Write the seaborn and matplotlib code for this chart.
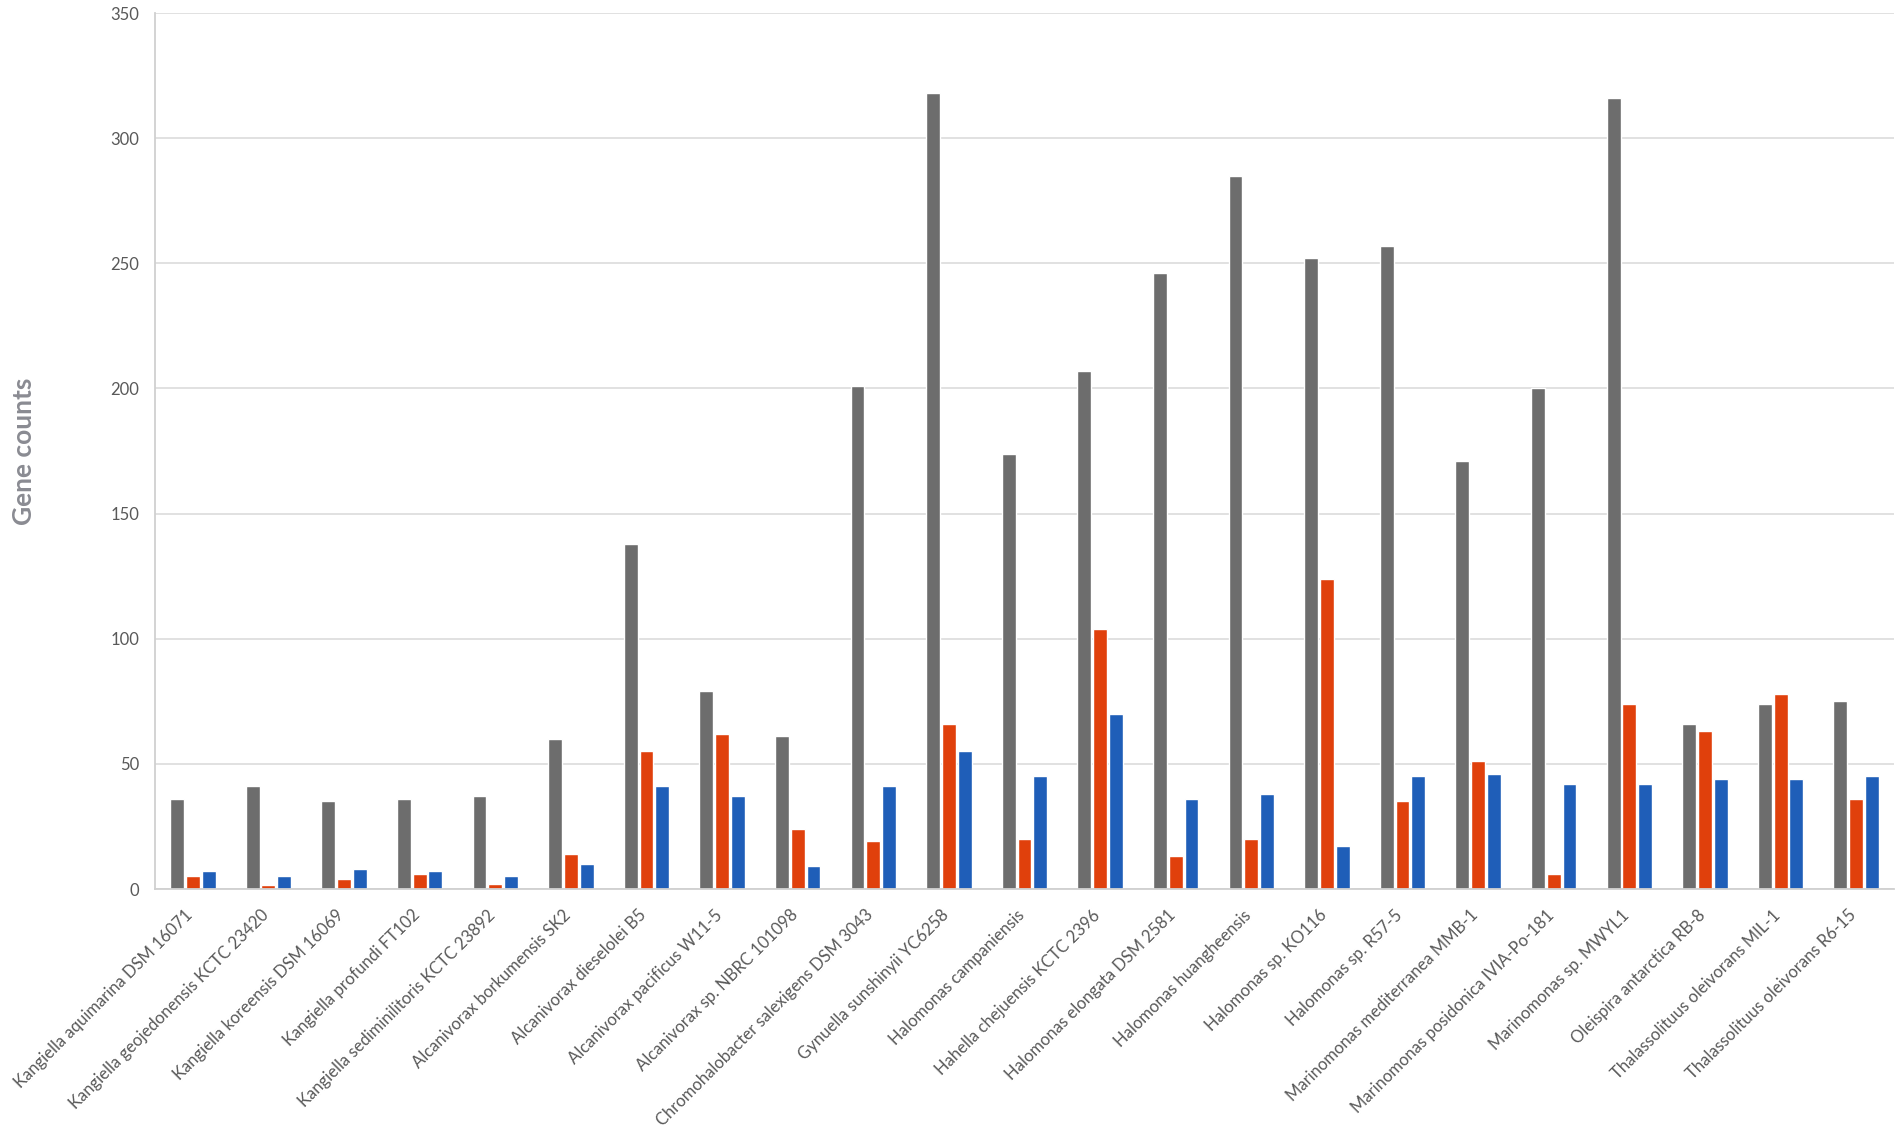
import matplotlib
matplotlib.use("Agg")
import matplotlib.pyplot as plt
import matplotlib.transforms as mtransforms
import seaborn as sns
import pandas as pd

organisms = [
    "Kangiella aquimarina DSM 16071",
    "Kangiella geojedonensis KCTC 23420",
    "Kangiella koreensis DSM 16069",
    "Kangiella profundi FT102",
    "Kangiella sediminilitoris KCTC 23892",
    "Alcanivorax borkumensis SK2",
    "Alcanivorax dieselolei B5",
    "Alcanivorax pacificus W11-5",
    "Alcanivorax sp. NBRC 101098",
    "Chromohalobacter salexigens DSM 3043",
    "Gynuella sunshinyii YC6258",
    "Halomonas campaniensis",
    "Hahella chejuensis KCTC 2396",
    "Halomonas elongata DSM 2581",
    "Halomonas huangheensis",
    "Halomonas sp. KO116",
    "Halomonas sp. R57-5",
    "Marinomonas mediterranea MMB-1",
    "Marinomonas posidonica IVIA-Po-181",
    "Marinomonas sp. MWYL1",
    "Oleispira antarctica RB-8",
    "Thalassolituus oleivorans MIL-1",
    "Thalassolituus oleivorans R6-15",
]

series_1 = [36, 41, 35, 36, 37, 60, 138, 79, 61, 201, 318, 174, 207, 246, 285, 252, 257, 171, 200, 316, 66, 74, 75]
series_2 = [5, 1.5, 4, 6, 2, 14, 55, 62, 24, 19, 66, 20, 104, 13, 20, 124, 35, 51, 6, 74, 63, 78, 36]
series_3 = [7, 5, 8, 7, 5, 10, 41, 37, 9, 41, 55, 45, 70, 36, 38, 17, 45, 46, 42, 42, 44, 44, 45]

series_names = ["Series 1", "Series 2", "Series 3"]
colors = ["#6d6d6d", "#e0400c", "#1f5eb8"]
y_ticks = [0, 50, 100, 150, 200, 250, 300, 350]

df = pd.DataFrame({
    "Organism": organisms * 3,
    "Count": series_1 + series_2 + series_3,
    "Series": [series_names[0]] * len(organisms) + [series_names[1]] * len(organisms) + [series_names[2]] * len(organisms),
})

sns.set_theme(style="white")
plt.rcParams["font.family"] = ["Lato", "DejaVu Sans"]

fig = plt.figure(figsize=(19, 11.42), dpi=100)
ax = fig.add_axes([155 / 1900, 1 - 889 / 1142, (1894 - 155) / 1900, (889 - 13) / 1142])

sns.barplot(data=df, x="Organism", y="Count", hue="Series", order=organisms,
            hue_order=series_names, palette=colors, saturation=1,
            width=0.626, gap=0.12, legend=False, ax=ax, errorbar=None)

ax.set_ylim(0, 350)
ax.set_yticks(y_ticks)
ax.set_xlim(-0.5, len(organisms) - 0.5)
ax.yaxis.grid(True, color="#d9d9d9", linewidth=1.1)
ax.set_axisbelow(True)
for s in ["top", "right"]:
    ax.spines[s].set_visible(False)
for s in ["left", "bottom"]:
    ax.spines[s].set_color("#d0d0d0")
    ax.spines[s].set_linewidth(1.3)

ax.tick_params(axis="y", length=0, pad=11.5, labelsize=12, labelcolor="#595959")
ax.tick_params(axis="x", length=0, pad=0, labelsize=12, labelcolor="#595959")

ax.set_xlabel("")
ax.set_ylabel("Gene counts", fontsize=19, fontweight="bold", color="#8a8b92")
ax.yaxis.set_label_coords((36 - 155) / 1739, 0.5)

offset = mtransforms.ScaledTranslation(-8 / 100, -18 / 100, fig.dpi_scale_trans)
for lbl in ax.get_xticklabels():
    lbl.set_rotation(45)
    lbl.set_ha("right")
    lbl.set_va("top")
    lbl.set_rotation_mode("anchor")
    lbl.set_transform(lbl.get_transform() + offset)

fig.savefig("out.png", dpi=100, facecolor="white")
